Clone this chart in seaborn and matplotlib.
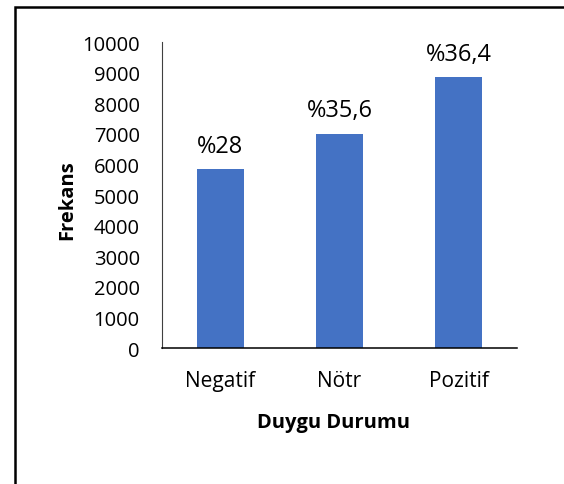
import matplotlib
matplotlib.use("Agg")
import matplotlib.pyplot as plt
from matplotlib.patches import Rectangle
import seaborn as sns

# Veri
duygu = ["Negatif", "Nötr", "Pozitif"]
frekans = [5850, 7000, 8850]
yuzde = ["%28", "%35,6", "%36,4"]
y_ticks = list(range(0, 10001, 1000))

BAR_COLOR = "#4472C4"

sns.set_theme(style="white")
plt.rcParams["font.family"] = ["Open Sans", "DejaVu Sans"]

fig = plt.figure(figsize=(5.64, 4.85), dpi=100)
ax = fig.add_axes([0.2872, 0.2804, 0.6294, 0.6309])

sns.barplot(x=duygu, y=frekans, color=BAR_COLOR, saturation=1, width=0.4,
            edgecolor="none", ax=ax)

ax.set_ylim(0, 10000)
ax.set_xlim(-0.49, 2.49)
ax.set_yticks(y_ticks)
ax.set_yticklabels([str(t) for t in y_ticks])
ax.tick_params(axis="y", length=0, pad=16, labelsize=14.5, colors="black")
ax.tick_params(axis="x", length=0, pad=16, labelsize=15, colors="black")

for side in ["top", "right"]:
    ax.spines[side].set_visible(False)
ax.spines["left"].set_color("#404040")
ax.spines["left"].set_linewidth(0.8)
ax.spines["bottom"].set_color("black")
ax.spines["bottom"].set_linewidth(1.1)

for i, (val, lbl) in enumerate(zip(frekans, yuzde)):
    ax.annotate(lbl, xy=(i, val), xytext=(0, 12.5), textcoords="offset points",
                ha="center", va="baseline", fontsize=17, color="black")

ax.set_xlabel("Duygu Durumu", fontsize=14.5, fontweight="bold", color="black")
ax.xaxis.set_label_coords(0.483, -0.242)
ax.xaxis.label.set_va("center")
ax.set_ylabel("Frekans", fontsize=14.5, fontweight="bold", color="black")
ax.yaxis.set_label_coords(-0.268, 0.487)
ax.yaxis.label.set_va("center")

# dış çerçeve
fig.patches.append(Rectangle((15 / 564, -0.1), 1.2, 0.1 + 477 / 485,
                             transform=fig.transFigure, fill=False,
                             edgecolor="black", linewidth=1.8))

fig.savefig("out.png", dpi=100)
